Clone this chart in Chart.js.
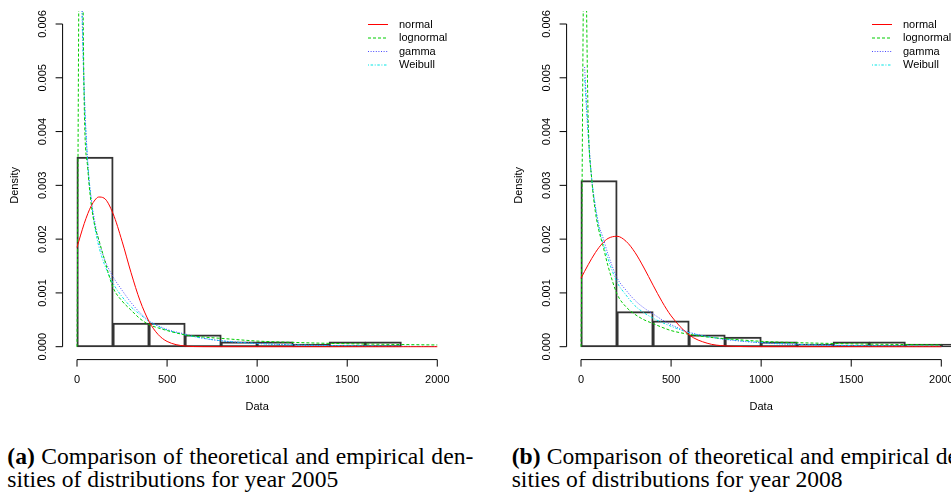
<!DOCTYPE html>
<html>
<head>
<meta charset="utf-8">
<script src="https://cdn.jsdelivr.net/npm/chart.js@4/dist/chart.umd.min.js"></script>
<style>
  body { margin: 0; width: 951px; height: 498px; overflow: hidden; background: #fff; position: relative; }
  canvas { position: absolute; top: 0; }
  .cap { position: absolute; top: 444.8px; font: 23.6px/23.2px "Liberation Serif", "Times New Roman", serif; color: #000; }
  .cap .l1 { display: block; width: 466px; text-align: justify; text-align-last: justify; }
  .cap .l2 { display: block; white-space: nowrap; }
</style>
</head>
<body>
<canvas id="c2005" width="504" height="420" style="left:0"></canvas>
<canvas id="c2008" width="504" height="420" style="left:504px"></canvas>
<div class="cap" style="left:7.3px"><span class="l1"><b>(a)</b> Comparison of theoretical and empirical den-</span><span class="l2">sities of distributions for year 2005</span></div>
<div class="cap" style="left:511.7px"><span class="l1"><b>(b)</b> Comparison of theoretical and empirical den-</span><span class="l2">sities of distributions for year 2008</span></div>
<script>
// legend / series names
const seriesNames = ["normal", "lognormal", "gamma", "Weibull"];

// axis ticks
const xTicks = [0, 500, 1000, 1500, 2000];
const yTicks = [0, 0.001, 0.002, 0.003, 0.004, 0.005, 0.006];
const yTickLabels = ["0.000", "0.001", "0.002", "0.003", "0.004", "0.005", "0.006"];

// histogram bins (mid points, width 200) and densities
const bins2005 = [100, 300, 500, 700, 900, 1100, 1300, 1500, 1700];
const hist2005 = [0.003522, 0.000435, 0.000435, 0.000217, 0.000087, 0.000087, 0.0000435, 0.000087, 0.000087];
const bins2008 = [100, 300, 500, 700, 900, 1100, 1300, 1500, 1700, 1900, 2100];
const hist2008 = [0.003087, 0.000652, 0.000478, 0.000217, 0.000174, 0.000087, 0.0000435, 0.000087, 0.000087, 0.0000435, 0.0000435];

// x positions where the fitted densities were read
const curveX = [0, 20, 40, 60, 80, 100, 120, 150, 200, 250, 300, 350, 400, 450, 500, 600, 700, 800, 1000, 1200, 1400, 1600, 1800, 2000];

// 2005 fitted densities
const normal2005 = [0.001846, 0.002075, 0.002289, 0.002475, 0.002625, 0.002729, 0.002783, 0.002763, 0.002475, 0.001962, 0.001376, 0.000854, 0.000469, 0.000228, 0.000098, 0.0000126, 0.000001, 0, 0, 0, 0, 0, 0, 0];
const lognormal2005 = [0, 0.0105, 0.0045, 0.0033, 0.00262, 0.00223, 0.0020, 0.00165, 0.0011, 0.00085, 0.00068, 0.00052, 0.00041, 0.00035, 0.0003, 0.00022, 0.00018, 0.000155, 0.000105, 0.00008, 0.000062, 0.00005, 0.00004, 0.000032];
const gamma2005 = [null, 0.0075, 0.0048, 0.0034, 0.00272, 0.0023, 0.00198, 0.00165, 0.0013, 0.00105, 0.00082, 0.00063, 0.00048, 0.00039, 0.00032, 0.000235, 0.00016, 0.00011, 0.00006, 0.000032, 0.000018, 0.00001, 0.000006, 0.000003];
const weibull2005 = [null, 0.0072, 0.0047, 0.0034, 0.0027, 0.0022, 0.00188, 0.00155, 0.00118, 0.00093, 0.00074, 0.0006, 0.00047, 0.00038, 0.00031, 0.00022, 0.000155, 0.00011, 0.00006, 0.000035, 0.00002, 0.000012, 0.000007, 0.000004];

// 2008 fitted densities
const normal2008 = [0.001273, 0.001401, 0.001525, 0.001643, 0.001751, 0.001846, 0.001926, 0.002013, 0.002053, 0.00196, 0.001751, 0.001463, 0.001144, 0.000837, 0.000574, 0.00022, 0.0000649, 0.0000147, 0.0000003, 0, 0, 0, 0, 0];
const lognormal2008 = [0, 0.0082, 0.0042, 0.0031, 0.0025, 0.00215, 0.0019, 0.0015, 0.00098, 0.00074, 0.0006, 0.0005, 0.00043, 0.00036, 0.0003, 0.00023, 0.00018, 0.00015, 0.0001, 0.000075, 0.00006, 0.000048, 0.00004, 0.000033];
const gamma2008 = [null, 0.0052, 0.004, 0.0031, 0.0026, 0.00225, 0.00205, 0.00172, 0.00128, 0.00105, 0.00086, 0.00072, 0.00061, 0.0005, 0.00041, 0.00027, 0.00019, 0.000135, 0.000072, 0.00004, 0.000022, 0.000013, 0.000008, 0.000005];
const weibull2008 = [null, 0.005, 0.0039, 0.0031, 0.0026, 0.0022, 0.00195, 0.00163, 0.0012, 0.00096, 0.00076, 0.00063, 0.00053, 0.00045, 0.00038, 0.00026, 0.00019, 0.00014, 0.000078, 0.000045, 0.000028, 0.000017, 0.00001, 0.000007];

const lineColors = ["#ff0000", "#00cd00", "#4a4aff", "#00e5e5"];
const lineDashes = [[], [3, 2], [1, 1.6], [1, 1.6, 2.5, 1.6]];
const FONT = '11px "Liberation Sans", Arial, sans-serif';

// R style axes, labels and legend
const rAxes = {
  id: "rAxes",
  afterDraw(chart) {
    const { ctx, chartArea: a, scales: { x, y } } = chart;
    ctx.save();
    ctx.strokeStyle = "#000";
    ctx.fillStyle = "#000";
    ctx.lineWidth = 1;
    ctx.font = FONT;

    ctx.beginPath();
    ctx.moveTo(x.getPixelForValue(xTicks[0]), a.bottom);
    ctx.lineTo(x.getPixelForValue(xTicks[xTicks.length - 1]), a.bottom);
    xTicks.forEach(v => {
      const p = x.getPixelForValue(v);
      ctx.moveTo(p, a.bottom);
      ctx.lineTo(p, a.bottom + 7);
    });
    ctx.moveTo(a.left, y.getPixelForValue(yTicks[0]));
    ctx.lineTo(a.left, y.getPixelForValue(yTicks[yTicks.length - 1]));
    yTicks.forEach(v => {
      const p = y.getPixelForValue(v);
      ctx.moveTo(a.left, p);
      ctx.lineTo(a.left - 7, p);
    });
    ctx.stroke();

    ctx.textAlign = "center";
    ctx.textBaseline = "middle";
    xTicks.forEach(v => ctx.fillText(String(v), x.getPixelForValue(v), a.bottom + 20.5));
    ctx.fillText("Data", (a.left + a.right) / 2, a.bottom + 47.5);
    yTicks.forEach((v, i) => {
      ctx.save();
      ctx.translate(a.left - 19.5, y.getPixelForValue(v));
      ctx.rotate(-Math.PI / 2);
      ctx.fillText(yTickLabels[i], 0, 0);
      ctx.restore();
    });
    ctx.save();
    ctx.translate(a.left - 47.5, (a.top + a.bottom) / 2);
    ctx.rotate(-Math.PI / 2);
    ctx.fillText("Density", 0, 0);
    ctx.restore();

    // legend, no box
    chart.data.datasets.filter(d => d.type === "line").forEach((d, i) => {
      const yy = a.top + 13.4 + 13.5 * i;
      ctx.beginPath();
      ctx.strokeStyle = d.borderColor;
      ctx.setLineDash(d.borderDash);
      ctx.moveTo(a.right - 83.7, yy);
      ctx.lineTo(a.right - 63.7, yy);
      ctx.stroke();
      ctx.setLineDash([]);
      ctx.textAlign = "left";
      ctx.fillStyle = "#000";
      ctx.fillText(d.label, a.right - 52.7, yy);
    });
    ctx.restore();
  }
};

function makePanel(id, bins, hist, curves) {
  const lines = curves.map((vals, i) => ({
    type: "line",
    label: seriesNames[i],
    data: curveX.map((x, j) => ({ x: x, y: vals[j] })),
    borderColor: lineColors[i],
    borderDash: lineDashes[i],
    borderWidth: 1,
    pointRadius: 0,
    cubicInterpolationMode: "monotone",
    spanGaps: false,
    order: i + 1
  }));
  new Chart(document.getElementById(id), {
    type: "line",
    data: {
      datasets: [
        ...lines,
        {
          type: "bar",
          label: "hist",
          data: bins.map((x, j) => ({ x: x, y: hist[j] })),
          backgroundColor: "rgba(0,0,0,0)",
          borderColor: "#333",
          borderWidth: 1,
          borderSkipped: false,
          inflateAmount: 0.5,
          barPercentage: 1,
          categoryPercentage: 1,
          order: 10
        }
      ]
    },
    options: {
      responsive: false,
      animation: false,
      devicePixelRatio: 1,
      layout: { padding: { left: 62.6, right: 52.3, top: 11.1, bottom: 60.4 } },
      scales: {
        x: {
          type: "linear", display: false, offset: false, min: -80, max: 2080,
          afterBuildTicks: s => { s.ticks = xTicks.map(v => ({ value: v })); }
        },
        y: { type: "linear", display: false, min: -0.00024, max: 0.00624 }
      },
      plugins: { legend: { display: false }, tooltip: { enabled: false } }
    },
    plugins: [rAxes]
  });
}

makePanel("c2005", bins2005, hist2005, [normal2005, lognormal2005, gamma2005, weibull2005]);
makePanel("c2008", bins2008, hist2008, [normal2008, lognormal2008, gamma2008, weibull2008]);
</script>
</body>
</html>
